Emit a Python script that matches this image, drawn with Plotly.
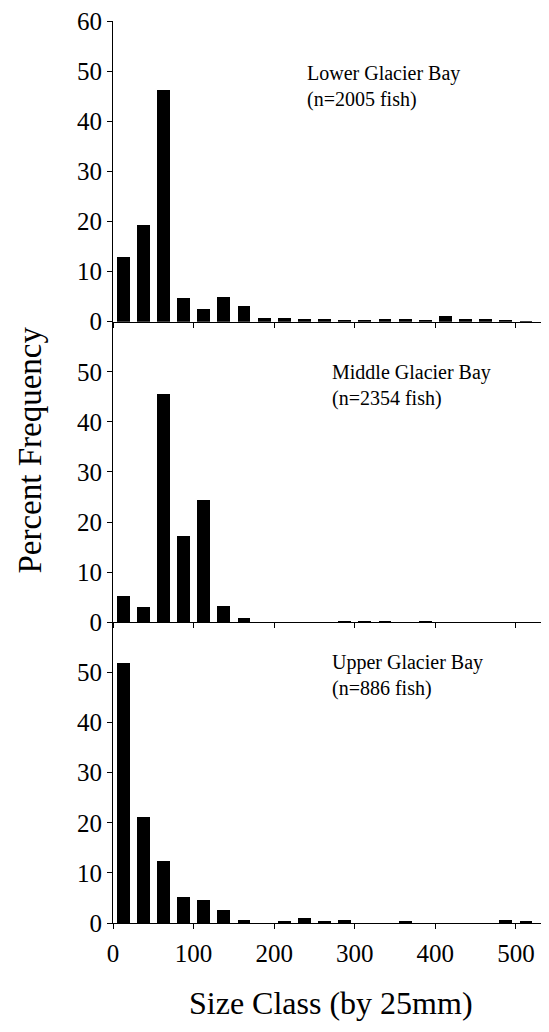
import plotly.graph_objects as go
from plotly.subplots import make_subplots

# Size class bin centers (mm), 25 mm bins
size_class = [12.5, 37.5, 62.5, 87.5, 112.5, 137.5, 162.5, 187.5, 212.5, 237.5,
              262.5, 287.5, 312.5, 337.5, 362.5, 387.5, 412.5, 437.5, 462.5, 487.5, 512.5]

lower_bay = [12.9, 19.3, 46.3, 4.8, 2.6, 4.9, 3.2, 0.8, 0.8, 0.6,
             0.5, 0.4, 0.3, 0.45, 0.5, 0.3, 1.1, 0.45, 0.6, 0.2, 0.1]
middle_bay = [5.3, 3.1, 45.6, 17.2, 24.5, 3.4, 1.0, 0.0, 0.1, 0.0,
              0.0, 0.2, 0.2, 0.2, 0.1, 0.2, 0.1, 0.0, 0.0, 0.0, 0.0]
upper_bay = [51.8, 21.0, 12.4, 5.2, 4.6, 2.6, 0.5, 0.0, 0.3, 0.9,
             0.3, 0.45, 0.0, 0.0, 0.35, 0.0, 0.0, 0.0, 0.0, 0.5, 0.3]

panel_labels = ["Lower Glacier Bay<br>(n=2005 fish)",
                "Middle Glacier Bay<br>(n=2354 fish)",
                "Upper Glacier Bay<br>(n=886 fish)"]

x_ticks = [0, 100, 200, 300, 400, 500]
y_ticks_top = [0, 10, 20, 30, 40, 50, 60]
y_ticks = [0, 10, 20, 30, 40, 50]

FONT = "Liberation Serif"

fig = make_subplots(rows=3, cols=1, shared_xaxes=True, vertical_spacing=0)

ann_pos = [(238, 47.0), (269, 47.2), (269, 49.4)]

for i, vals in enumerate([lower_bay, middle_bay, upper_bay]):
    fig.add_trace(go.Bar(x=size_class, y=vals, width=16,
                         marker=dict(color="black", line=dict(width=0)),
                         showlegend=False), row=i + 1, col=1)
    fig.update_yaxes(range=[0, 60], tickvals=(y_ticks_top if i == 0 else y_ticks),
                     ticks="outside", ticklen=5, tickwidth=1, tickcolor="black",
                     showline=True, linecolor="black", linewidth=1,
                     showgrid=False, zeroline=False, ticklabeloverflow="allow",
                     automargin=False,
                     tickfont=dict(family=FONT, size=25, color="black"),
                     row=i + 1, col=1)
    fig.update_xaxes(range=[0, 541], tickvals=x_ticks,
                     ticks="outside", ticklen=5, tickwidth=1, tickcolor="black",
                     showline=True, linecolor="black", linewidth=1,
                     showgrid=False, zeroline=False, ticklabelstandoff=3,
                     automargin=False,
                     tickfont=dict(family=FONT, size=25, color="black"),
                     row=i + 1, col=1)
    fig.add_annotation(text=panel_labels[i], x=ann_pos[i][0], y=ann_pos[i][1],
                       showarrow=False, align="left", xanchor="left", yanchor="middle",
                       font=dict(family=FONT, size=20, color="black"),
                       row=i + 1, col=1)

fig.add_annotation(text="Percent Frequency", xref="paper", yref="paper",
                   x=-0.19, y=0.524, textangle=-90, showarrow=False,
                   xanchor="center", yanchor="middle",
                   font=dict(family=FONT, size=33, color="black"))
fig.add_annotation(text="Size Class (by 25mm)", xref="paper", yref="paper",
                   x=0.5, y=-0.089, showarrow=False,
                   xanchor="center", yanchor="middle",
                   font=dict(family=FONT, size=32, color="black"))

# page body has an 8px margin, so the figure is sized/offset to fit the window
fig.update_layout(width=541, height=1016, bargap=0,
                  margin=dict(l=105, r=0, t=13, b=101),
                  plot_bgcolor="white", paper_bgcolor="white")

fig.write_html("out.html")
